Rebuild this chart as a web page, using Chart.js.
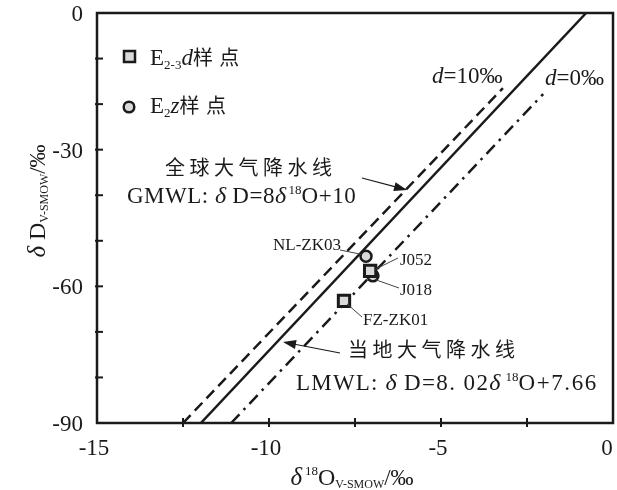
<!DOCTYPE html>
<html>
<head>
<meta charset="utf-8">
<script src="https://cdn.jsdelivr.net/npm/chart.js@4.4.1/dist/chart.umd.min.js"></script>
<style>
  html, body { margin: 0; padding: 0; background: #fff; overflow: hidden; }
  canvas { display: block; }
</style>
</head>
<body>
<canvas id="isoChart" width="617" height="490"></canvas>
<script>
// samples
const sampleNames = ['NL-ZK03', 'J052', 'J018', 'FZ-ZK01'];
const sampleGroup = ['E2z', 'E2-3d', 'E2z', 'E2-3d'];
const d18O = [-7.18, -7.06, -6.98, -7.82];
const dD = [-53.4, -56.6, -57.7, -63.2];

// water line end points (x = d18O, y = dD)
const gmwlX = [-12.5, -3.2];
const gmwlY = [-90, -16.5];
const lmwlX = [-11.98, -0.78];
const lmwlY = [-90, 0];
const d0X = [-11.1, -2.03];
const d0Y = [-90, -17.8];

const xTickLabels = [-15, -10, -5, 0];
const yTickLabels = [0, -30, -60, -90];

const serif = '"Liberation Serif", "Times New Roman", serif';
const cjk = '"Noto Sans CJK SC", sans-serif';
const ink = '#1a1a1a';

function fontOf(p) {
  return (p.i ? 'italic ' : '') + p.s + 'px ' + (p.f || serif);
}

// draw a run of text pieces (sub/superscripts, italics, spaced letters)
function drawRich(ctx, parts, x, y, align) {
  let total = 0;
  parts.forEach(p => {
    ctx.font = fontOf(p);
    if (p.sp) {
      p.w = 0;
      for (const ch of p.t) p.w += ctx.measureText(ch).width + p.sp;
    } else {
      p.w = ctx.measureText(p.t).width;
    }
    total += p.w + (p.g || 0);
  });
  let cx = align === 'center' ? x - total / 2 : (align === 'right' ? x - total : x);
  ctx.textAlign = 'left';
  ctx.textBaseline = 'alphabetic';
  parts.forEach(p => {
    ctx.font = fontOf(p);
    if (p.sp) {
      let px = cx;
      for (const ch of p.t) {
        ctx.fillText(ch, px, y + (p.dy || 0));
        px += ctx.measureText(ch).width + p.sp;
      }
    } else {
      ctx.fillText(p.t, cx, y + (p.dy || 0));
    }
    cx += p.w + (p.g || 0);
  });
}

function arrow(ctx, x1, y1, x2, y2) {
  const a = Math.atan2(y2 - y1, x2 - x1);
  ctx.beginPath();
  ctx.moveTo(x1, y1);
  ctx.lineTo(x2 - 8 * Math.cos(a), y2 - 8 * Math.sin(a));
  ctx.lineWidth = 1.2;
  ctx.stroke();
  ctx.beginPath();
  ctx.moveTo(x2, y2);
  ctx.lineTo(x2 - 13 * Math.cos(a) + 4.5 * Math.sin(a), y2 - 13 * Math.sin(a) - 4.5 * Math.cos(a));
  ctx.lineTo(x2 - 13 * Math.cos(a) - 4.5 * Math.sin(a), y2 - 13 * Math.sin(a) + 4.5 * Math.cos(a));
  ctx.closePath();
  ctx.fill();
}

const pts = (xs, ys) => xs.map((x, i) => ({ x: x, y: ys[i] }));
const groupPts = g => sampleNames.map((n, i) => ({ x: d18O[i], y: dD[i], name: n, g: sampleGroup[i] }))
  .filter(p => p.g === g);

// frame, inward ticks, labels and annotations
const decorations = {
  id: 'decorations',
  afterDatasetsDraw(chart) {
    const ctx = chart.ctx;
    const a = chart.chartArea;
    const xs = chart.scales.x;
    const ys = chart.scales.y;
    ctx.save();
    ctx.strokeStyle = ink;
    ctx.fillStyle = ink;

    ctx.lineWidth = 2.5;
    ctx.strokeRect(a.left, a.top, a.right - a.left, a.bottom - a.top);

    ctx.lineWidth = 2;
    ys.ticks.forEach(t => {
      const py = ys.getPixelForValue(t.value);
      if (py <= a.top + 1 || py >= a.bottom - 1) return;
      ctx.beginPath();
      ctx.moveTo(a.left - 2, py);
      ctx.lineTo(a.left + 6, py);
      ctx.stroke();
    });
    xs.ticks.forEach(t => {
      const px = xs.getPixelForValue(t.value);
      if (px <= a.left + 1 || px >= a.right - 1) return;
      ctx.beginPath();
      ctx.moveTo(px, a.bottom + 4);
      ctx.lineTo(px, a.bottom - 5);
      ctx.stroke();
    });

    // tick labels
    ctx.font = '23px ' + serif;
    ctx.textBaseline = 'middle';
    ctx.textAlign = 'right';
    yTickLabels.forEach(v => {
      ctx.fillText(String(v), 83, ys.getPixelForValue(v) + 2);
    });
    ctx.textAlign = 'center';
    xTickLabels.forEach(v => {
      const px = Math.min(xs.getPixelForValue(v), 610);
      ctx.fillText(String(v), px - 3, a.bottom + 26);
    });

    // axis titles
    drawRich(ctx, [
      { t: 'δ', s: 25, i: 1 }, { t: ' ', s: 12 }, { t: '18', s: 13, dy: -10 },
      { t: 'O', s: 24 }, { t: 'V-SMOW', s: 12, dy: 3 }, { t: '/‰', s: 23 }
    ], 352, 485, 'center');
    ctx.save();
    ctx.translate(45, 201);
    ctx.rotate(-Math.PI / 2);
    drawRich(ctx, [
      { t: 'δ', s: 25, i: 1 }, { t: ' D', s: 24 }, { t: 'V-SMOW', s: 12, dy: 3 }, { t: '/‰', s: 23 }
    ], 0, 0, 'center');
    ctx.restore();

    // legend
    ctx.lineWidth = 2.5;
    ctx.fillStyle = '#d9d9d9';
    ctx.fillRect(124, 51, 11, 11);
    ctx.strokeRect(124, 51, 11, 11);
    ctx.beginPath();
    ctx.arc(129, 107, 5.3, 0, Math.PI * 2);
    ctx.fill();
    ctx.stroke();
    ctx.fillStyle = ink;
    drawRich(ctx, [
      { t: 'E', s: 23 }, { t: '2-3', s: 13, dy: 4 }, { t: 'd', s: 23, i: 1 },
      { t: '样 点', s: 20, f: cjk, sp: 1 }
    ], 150, 65, 'left');
    drawRich(ctx, [
      { t: 'E', s: 23 }, { t: '2', s: 13, dy: 4 }, { t: 'z', s: 23, i: 1 },
      { t: '样 点', s: 20, f: cjk, sp: 1 }
    ], 150, 113, 'left');

    // sample labels with leader lines
    const lab = {
      'NL-ZK03': { tx: 273, ty: 250, lx: 340, ly: 250, dx: -5, dy: -2 },
      'J052': { tx: 400, ty: 265, lx: 398, ly: 258, dx: 4, dy: -1 },
      'J018': { tx: 400, ty: 295, lx: 399, ly: 288, dx: 3, dy: 4 },
      'FZ-ZK01': { tx: 363, ty: 325, lx: 362, ly: 317, dx: 3, dy: 3 }
    };
    ctx.strokeStyle = '#444';
    ctx.lineWidth = 1;
    sampleNames.forEach((n, i) => {
      const L = lab[n];
      const px = xs.getPixelForValue(d18O[i]);
      const py = ys.getPixelForValue(dD[i]);
      ctx.beginPath();
      ctx.moveTo(L.lx, L.ly);
      ctx.lineTo(px + L.dx, py + L.dy);
      ctx.stroke();
      drawRich(ctx, [{ t: n, s: 17 }], L.tx, L.ty, 'left');
    });

    // line annotations
    ctx.strokeStyle = ink;
    drawRich(ctx, [{ t: 'd', s: 23, i: 1 }, { t: '=10‰', s: 23 }], 432, 83, 'left');
    drawRich(ctx, [{ t: 'd', s: 23, i: 1 }, { t: '=0‰', s: 23 }], 545, 85, 'left');

    drawRich(ctx, [{ t: '全球大气降水线', s: 20, f: cjk, sp: 4.5 }], 165, 175, 'left');
    drawRich(ctx, [
      { t: 'GMWL: ', s: 23, sp: 0.5 }, { t: 'δ', s: 24, i: 1 }, { t: ' D=8', s: 23, sp: 0.5 },
      { t: 'δ', s: 24, i: 1 }, { t: ' ', s: 10 }, { t: '18', s: 13, dy: -9 }, { t: 'O+10', s: 23, sp: 0.5 }
    ], 127, 203, 'left');
    arrow(ctx, 362, 178, 407, 190);

    drawRich(ctx, [{ t: '当地大气降水线', s: 20, f: cjk, sp: 4.5 }], 348, 357, 'left');
    drawRich(ctx, [
      { t: 'LMWL: ', s: 23, sp: 1.2 }, { t: 'δ', s: 24, i: 1 }, { t: ' D=8. 02', s: 23, sp: 1.4 },
      { t: 'δ', s: 24, i: 1 }, { t: '  ', s: 10 }, { t: '18', s: 13, dy: -9 }, { t: 'O+7.66', s: 23, sp: 1.6 }
    ], 296, 390, 'left');
    arrow(ctx, 340, 353, 283, 342);

    ctx.restore();
  }
};

new Chart(document.getElementById('isoChart'), {
  type: 'scatter',
  data: {
    datasets: [
      {
        label: 'E2-3d',
        data: groupPts('E2-3d'),
        pointStyle: 'rect',
        pointRadius: 8,
        backgroundColor: '#d9d9d9',
        borderColor: ink,
        borderWidth: 3,
        order: 0
      },
      {
        label: 'E2z',
        data: groupPts('E2z'),
        pointStyle: 'circle',
        pointRadius: 5.5,
        backgroundColor: '#d9d9d9',
        borderColor: ink,
        borderWidth: 2.5,
        order: 1
      },
      {
        label: 'LMWL',
        data: pts(lmwlX, lmwlY),
        showLine: true,
        borderColor: ink,
        borderWidth: 2.5,
        pointRadius: 0,
        order: 2
      },
      {
        label: 'GMWL',
        data: pts(gmwlX, gmwlY),
        showLine: true,
        borderColor: ink,
        borderWidth: 2.5,
        borderDash: [11, 6],
        pointRadius: 0,
        order: 3
      },
      {
        label: 'd=0',
        data: pts(d0X, d0Y),
        showLine: true,
        borderColor: ink,
        borderWidth: 2.5,
        borderDash: [12, 6, 2.5, 6],
        pointRadius: 0,
        order: 4
      }
    ]
  },
  options: {
    responsive: false,
    animation: false,
    layout: { autoPadding: false, padding: { top: 13, right: 4, left: 0, bottom: 0 } },
    plugins: {
      legend: { display: false },
      tooltip: { enabled: false }
    },
    scales: {
      x: {
        type: 'linear',
        min: -15,
        max: 0,
        ticks: { display: false, stepSize: 2.5 },
        grid: { display: false },
        border: { display: false },
        afterFit: s => { s.height = 67; }
      },
      y: {
        type: 'linear',
        min: -90,
        max: 0,
        ticks: { display: false, stepSize: 10 },
        grid: { display: false },
        border: { display: false },
        afterFit: s => { s.width = 97; }
      }
    }
  },
  plugins: [decorations]
});
</script>
</body>
</html>
